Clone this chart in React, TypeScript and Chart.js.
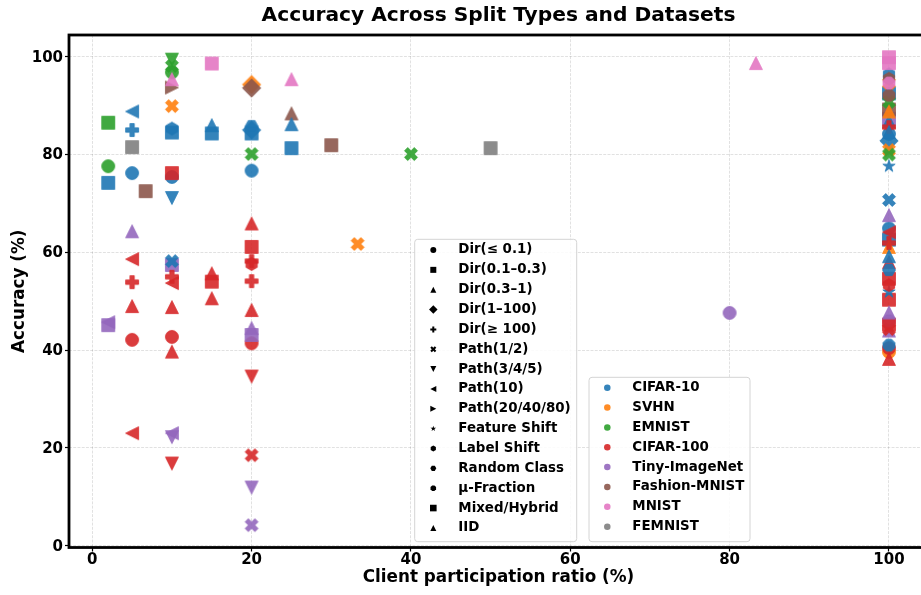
import React, { useEffect, useRef } from 'react';
import { Chart, registerables } from 'chart.js';

Chart.register(...registerables);

// ---------------- data ----------------
const DATASET_NAMES = ['CIFAR-10', 'SVHN', 'EMNIST', 'CIFAR-100', 'Tiny-ImageNet', 'Fashion-MNIST', 'MNIST', 'FEMNIST'];
const DATASET_COLORS = ['#1f77b4', '#ff7f0e', '#2ca02c', '#d62728', '#9467bd', '#8c564b', '#e377c2', '#7f7f7f'];

const SPLIT_NAMES = ['Dir(≤ 0.1)', 'Dir(0.1–0.3)', 'Dir(0.3–1)', 'Dir(1–100)', 'Dir(≥ 100)', 'Path(1/2)', 'Path(3/4/5)',
  'Path(10)', 'Path(20/40/80)', 'Feature Shift', 'Label Shift', 'Random Class', 'μ-Fraction', 'Mixed/Hybrid', 'IID'];
const SPLIT_MARKERS = ['o', 's', '^', 'D', 'P', 'X', 'v', '<', '>', '*', 'h', 'H', '8', 's', '^'];

// split indices
const D01 = 0, D03 = 1, D1 = 2, D100 = 3, DGE = 4, P12 = 5, P345 = 6, P10 = 7, P20 = 8, FEAT = 9, LBL = 10, RND = 11, MU = 12, MIX = 13, IID = 14;

type Pt = [number, number, number]; // [participation %, accuracy %, split index]

const CIFAR10: Pt[] = [
  [2, 74.2, D03], [5, 88.8, P10], [5, 85.0, DGE], [5, 76.2, D01],
  [10, 85.3, LBL], [10, 84.5, D03], [10, 75.4, D01], [10, 71.1, P345], [10, 58.2, P12],
  [15, 86.0, D1], [15, 84.3, D03],
  [20, 85.8, RND], [20, 85.0, D100], [20, 84.3, MIX], [20, 76.7, D01],
  [25, 86.2, IID], [25, 81.3, MIX],
  [100, 96.4, LBL], [100, 92.5, D03], [100, 86.8, D1], [100, 84.6, IID], [100, 84.2, D01], [100, 82.8, D100],
  [100, 77.6, FEAT], [100, 70.7, P12], [100, 64.9, D01], [100, 62.6, D03], [100, 59.2, IID], [100, 56.4, RND],
  [100, 51.9, FEAT], [100, 41.0, MU],
];
const SVHN: Pt[] = [
  [10, 89.9, P12], [20, 94.3, D100], [33.3, 61.7, P12],
  [100, 94.6, P12], [100, 88.8, IID], [100, 80.9, P12], [100, 61.1, D1], [100, 39.6, D01],
];
const EMNIST: Pt[] = [
  [2, 86.5, D03], [2, 77.6, D01],
  [10, 99.4, P345], [10, 98.1, P12], [10, 96.8, D01],
  [20, 80.1, P12], [40, 80.1, P12],
  [100, 90.8, P12], [100, 80.0, P12],
];
const CIFAR100: Pt[] = [
  [5, 58.6, P10], [5, 53.9, DGE], [5, 49.0, D1], [5, 42.1, D01], [5, 23.0, P10],
  [10, 76.2, D03], [10, 55.0, DGE], [10, 53.7, P10], [10, 48.8, D1], [10, 42.7, D01], [10, 39.7, IID], [10, 16.8, P345],
  [15, 55.7, D1], [15, 54.0, D03], [15, 50.6, IID],
  [20, 65.9, IID], [20, 61.1, D03], [20, 58.2, DGE], [20, 57.6, LBL], [20, 54.1, DGE], [20, 48.2, D1],
  [20, 41.4, D01], [20, 34.6, P345], [20, 18.5, P12],
  [100, 85.6, DGE], [100, 64.1, P10], [100, 61.9, DGE], [100, 58.0, D1], [100, 54.6, D03], [100, 53.3, LBL],
  [100, 50.3, D03], [100, 45.2, MIX], [100, 44.3, P12], [100, 40.4, D01], [100, 38.2, IID],
];
const TINY_IMAGENET: Pt[] = [
  [2, 45.1, D03], [2, 45.7, P10], [5, 64.3, D1],
  [10, 57.4, D03], [10, 23.0, P10], [10, 22.2, P345],
  [20, 44.5, D1], [20, 43.1, D03], [20, 11.9, P345], [20, 4.2, P12],
  [80, 47.6, D01],
  [100, 87.3, D03], [100, 67.6, D1], [100, 47.7, IID], [100, 46.0, MU], [100, 44.0, D1],
];
const FASHION_MNIST: Pt[] = [
  [6.7, 72.5, D03], [10, 93.7, P20], [20, 93.6, D100], [25, 88.4, D1], [30, 81.9, MIX],
  [100, 95.5, LBL], [100, 92.1, MU], [100, 89.2, D03],
];
const MNIST: Pt[] = [
  [10, 95.4, IID], [15, 98.6, D03], [25, 95.4, D1], [83.3, 98.7, D1],
  [100, 99.9, D03], [100, 98.7, MIX], [100, 94.6, MU],
];
const FEMNIST: Pt[] = [
  [5, 81.5, D03], [50, 81.3, MIX],
];

const SERIES: Pt[][] = [CIFAR10, SVHN, EMNIST, CIFAR100, TINY_IMAGENET, FASHION_MNIST, MNIST, FEMNIST];

const X_TICKS = [0, 20, 40, 60, 80, 100];
const Y_TICKS = [0, 20, 40, 60, 80, 100];
const X_RANGE = [-2.92, 104.9];
const Y_RANGE = [-0.37, 104.44];

const TITLE = 'Accuracy Across Split Types and Datasets';
const X_LABEL = 'Client participation ratio (%)';
const Y_LABEL = 'Accuracy (%)';

// ---------------- drawing helpers ----------------
const FONT = '"DejaVu Sans", "Liberation Sans", sans-serif';
const MS = 13;
const ALPHA = 0.9;
const CANVAS_W = 930;
const CANVAS_H = 595;

function poly(ctx: CanvasRenderingContext2D, pts: number[][], cx: number, cy: number, k: number) {
  pts.forEach((p, i) => {
    const x = cx + p[0] * k, y = cy + p[1] * k;
    if (i === 0) ctx.moveTo(x, y); else ctx.lineTo(x, y);
  });
  ctx.closePath();
}

function regular(n: number, startDeg: number, r: number, inner?: number) {
  const pts: number[][] = [];
  const count = inner ? n * 2 : n;
  for (let i = 0; i < count; i++) {
    const a = (startDeg * Math.PI) / 180 + (i * 2 * Math.PI) / count;
    const rr = inner && i % 2 === 1 ? inner : r;
    pts.push([rr * Math.cos(a), -rr * Math.sin(a)]);
  }
  return pts;
}

function markerPath(ctx: CanvasRenderingContext2D, m: string, cx: number, cy: number, ms: number) {
  const h = ms / 2;
  ctx.beginPath();
  switch (m) {
    case 'o': ctx.arc(cx, cy, h, 0, Math.PI * 2); break;
    case 's': ctx.rect(cx - h, cy - h, ms, ms); break;
    case '^': poly(ctx, [[0, -1], [1, 1], [-1, 1]], cx, cy, h); break;
    case 'v': poly(ctx, [[0, 1], [-1, -1], [1, -1]], cx, cy, h); break;
    case '<': poly(ctx, [[-1, 0], [1, -1], [1, 1]], cx, cy, h); break;
    case '>': poly(ctx, [[1, 0], [-1, 1], [-1, -1]], cx, cy, h); break;
    case 'D': poly(ctx, [[0, -1], [1, 0], [0, 1], [-1, 0]], cx, cy, ms * Math.SQRT1_2); break;
    case 'P': poly(ctx, [[-1, -3], [1, -3], [1, -1], [3, -1], [3, 1], [1, 1], [1, 3], [-1, 3], [-1, 1], [-3, 1], [-3, -1], [-1, -1]], cx, cy, ms / 6); break;
    case 'X': poly(ctx, [[-1, -2], [0, -1], [1, -2], [2, -1], [1, 0], [2, 1], [1, 2], [0, 1], [-1, 2], [-2, 1], [-1, 0], [-2, -1]], cx, cy, ms / 4); break;
    case '*': poly(ctx, regular(5, 90, 1, 0.381966), cx, cy, h); break;
    case 'h': poly(ctx, regular(6, 90, 1), cx, cy, h); break;
    case 'H': poly(ctx, regular(6, 120, 1), cx, cy, h); break;
    case '8': poly(ctx, regular(8, 112.5, 1), cx, cy, h); break;
    default: ctx.arc(cx, cy, h, 0, Math.PI * 2);
  }
}

const markerCache = new Map<string, HTMLCanvasElement>();
function markerCanvas(m: string, color: string): HTMLCanvasElement {
  const key = m + '|' + color;
  const found = markerCache.get(key);
  if (found) return found;
  const size = 26;
  const c = document.createElement('canvas');
  c.width = size; c.height = size;
  const g = c.getContext('2d')!;
  g.globalAlpha = ALPHA;
  markerPath(g, m, size / 2, size / 2, MS);
  g.fillStyle = color;
  g.fill();
  g.lineWidth = 0.8;
  g.strokeStyle = color;
  g.stroke();
  markerCache.set(key, c);
  return c;
}

function roundRect(ctx: CanvasRenderingContext2D, x: number, y: number, w: number, h: number, r: number) {
  ctx.beginPath();
  ctx.moveTo(x + r, y);
  ctx.lineTo(x + w - r, y);
  ctx.arcTo(x + w, y, x + w, y + r, r);
  ctx.lineTo(x + w, y + h - r);
  ctx.arcTo(x + w, y + h, x + w - r, y + h, r);
  ctx.lineTo(x + r, y + h);
  ctx.arcTo(x, y + h, x, y + h - r, r);
  ctx.lineTo(x, y + r);
  ctx.arcTo(x, y, x + r, y, r);
  ctx.closePath();
}

function legendBox(ctx: CanvasRenderingContext2D, x: number, y: number, w: number, h: number) {
  roundRect(ctx, x, y, w, h, 3);
  ctx.fillStyle = 'rgba(255,255,255,0.85)';
  ctx.fill();
  ctx.lineWidth = 1;
  ctx.strokeStyle = '#d4d4d4';
  ctx.stroke();
}

const ROW = 19.85;

const decorPlugin = {
  id: 'decor',
  afterDraw(chart: any) {
    const ctx: CanvasRenderingContext2D = chart.ctx;
    const a = chart.chartArea;
    ctx.save();
    // frame
    ctx.strokeStyle = '#000';
    ctx.lineWidth = 2.8;
    ctx.strokeRect(a.left, a.top, a.right - a.left, a.bottom - a.top);

    // title
    ctx.fillStyle = '#000';
    ctx.font = `bold 20.2px ${FONT}`;
    ctx.textAlign = 'center';
    ctx.textBaseline = 'middle';
    ctx.fillText(TITLE, (a.left + a.right) / 2, 16);

    // split-type legend
    legendBox(ctx, 414.7, 239.3, 162, 302.4);
    ctx.font = `bold 13.4px ${FONT}`;
    ctx.textAlign = 'left';
    ctx.textBaseline = 'middle';
    SPLIT_NAMES.forEach((name, i) => {
      const y = 250 + i * ROW;
      const m = SPLIT_MARKERS[i];
      markerPath(ctx, m, 433.3, y, i === MIX ? 6.6 : 6);
      ctx.fillStyle = '#000';
      ctx.fill();
      ctx.fillText(name, 458.3, y);
    });

    // dataset legend
    legendBox(ctx, 589, 377.3, 161, 164.4);
    DATASET_NAMES.forEach((name, i) => {
      const y = 387.7 + i * ROW;
      ctx.globalAlpha = ALPHA;
      markerPath(ctx, 'o', 607.3, y, 6.5);
      ctx.fillStyle = DATASET_COLORS[i];
      ctx.fill();
      ctx.globalAlpha = 1;
      ctx.fillStyle = '#000';
      ctx.fillText(name, 632.3, y);
    });
    ctx.restore();
  },
};

// ---------------- component ----------------
export default function App() {
  const canvasRef = useRef<HTMLCanvasElement | null>(null);

  useEffect(() => {
    if (!canvasRef.current) return;

    const datasets = SPLIT_NAMES.map((name, s) => {
      const data: { x: number; y: number; c: number }[] = [];
      SERIES.forEach((pts, c) => {
        pts.forEach((p) => {
          if (p[2] === s) data.push({ x: p[0], y: p[1], c });
        });
      });
      return {
        label: name,
        data,
        order: -s,
        pointStyle: (ctx: any) => (ctx.raw ? markerCanvas(SPLIT_MARKERS[s], DATASET_COLORS[ctx.raw.c]) : 'circle'),
        pointRadius: 7,
        pointHoverRadius: 7,
        pointBorderWidth: 0,
        backgroundColor: 'transparent',
        borderColor: 'transparent',
        clip: false,
      };
    });

    const tickFont = { family: FONT, size: 15, weight: 'bold' as const };
    const labelFont = { family: FONT, size: 16.8, weight: 'bold' as const };
    const gridOpts = {
      color: 'rgba(0,0,0,0.15)',
      lineWidth: 0.8,
      drawTicks: true,
      tickLength: 4,
      tickColor: '#000',
      tickWidth: 1.2,
      tickBorderDash: [],
    };

    const chart = new Chart(canvasRef.current, {
      type: 'scatter',
      data: { datasets: datasets as any },
      options: {
        animation: false,
        responsive: false,
        maintainAspectRatio: false,
        devicePixelRatio: 1,
        events: [],
        layout: { autoPadding: false, padding: { left: 0, top: 35, right: 2, bottom: 0 } },
        plugins: {
          legend: { display: false },
          tooltip: { enabled: false },
          title: { display: false },
        },
        scales: {
          x: {
            type: 'linear',
            min: X_RANGE[0],
            max: X_RANGE[1],
            afterBuildTicks: (scale: any) => { scale.ticks = X_TICKS.map((v) => ({ value: v })); },
            afterFit: (scale: any) => { scale.height = 47.5; },
            ticks: { color: '#000', font: tickFont, padding: -0.5, maxRotation: 0, autoSkip: false, callback: (v: any) => String(v) },
            grid: gridOpts as any,
            border: { display: false, dash: [2.96, 1.28] },
            title: { display: true, text: X_LABEL, color: '#000', font: labelFont, padding: { top: 0, bottom: 7.6 } },
          },
          y: {
            type: 'linear',
            min: Y_RANGE[0],
            max: Y_RANGE[1],
            afterBuildTicks: (scale: any) => { scale.ticks = Y_TICKS.map((v) => ({ value: v })); },
            afterFit: (scale: any) => { scale.width = 69; },
            ticks: { color: '#000', font: tickFont, padding: 2, labelOffset: 1, autoSkip: false, callback: (v: any) => String(v) },
            grid: gridOpts as any,
            border: { display: false, dash: [2.96, 1.28] },
            title: { display: true, text: Y_LABEL, color: '#000', font: labelFont, padding: { top: 9.6, bottom: 0 } },
          },
        },
      },
      plugins: [decorPlugin],
    });

    return () => chart.destroy();
  }, []);

  return (
    <div style={{ position: 'fixed', left: 0, top: 0, width: 921, height: 595, overflow: 'hidden', background: '#fff' }}>
      <canvas ref={canvasRef} width={CANVAS_W} height={CANVAS_H} style={{ display: 'block', width: CANVAS_W, height: CANVAS_H }} />
    </div>
  );
}
